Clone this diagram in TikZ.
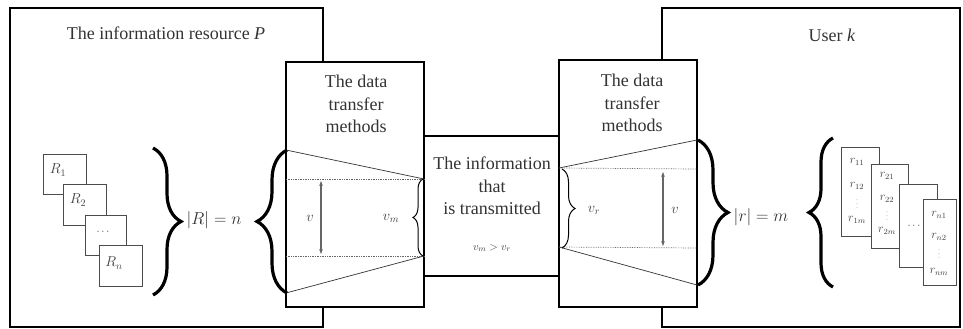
\documentclass[tikz,border=0pt]{standalone}
\usepackage{fontspec}
\setmainfont{Liberation Serif}
\usetikzlibrary{decorations.pathreplacing,arrows.meta}

\tikzset{
  frame/.style={draw, line width=2pt},
  txt/.style={font=\fontsize{18}{22.5}\selectfont, text=black!80, align=center},
  lbl/.style={font=\fontsize{14}{16}\selectfont, text=black!75},
  tiny/.style={font=\fontsize{11}{12}\selectfont, text=black!75},
  rlbl/.style={font=\fontsize{12}{13}\selectfont, text=black!75, inner sep=0pt},
  vd/.style={font=\fontsize{6}{6}\selectfont, text=black!60, inner sep=0pt},
  rbox/.style={draw=black!70, line width=0.8pt, fill=white},
  bigbrace/.style={decorate, decoration={brace, amplitude=#1}, line width=3.2pt},
  smallbrace/.style={decorate, decoration={brace, amplitude=#1}, line width=1pt},
  edge/.style={line width=0.7pt, black!80},
  level/.style={densely dotted, line width=0.7pt, black!60},
  span/.style={{Stealth[length=5pt]}-{Stealth[length=5pt]}, line width=1.2pt, black!60}
}

\begin{document}
\begin{tikzpicture}[x=1pt, y=-1pt]
    \useasboundingbox (0,0) rectangle (963,329);

    % Outer frames
    \draw[frame] (10,8) rectangle (323,327);
    \draw[frame] (662,8) rectangle (960,327);
    \node[txt] (resP) at (166,33) {The information resource \textit{P}};
    \node[txt] (userk) at (832,35) {User \textit{k}};

    % Transfer boxes and the middle box
    \draw[frame, fill=white] (286,62) rectangle (424,307);
    \draw[frame, fill=white] (559,60) rectangle (697,307);
    \draw[frame, fill=white] (424,136) rectangle (559,276);
    \node[txt] (methL) at (356,104) {The data\\transfer\\methods};
    \node[txt] (methR) at (632,103) {The data\\transfer\\methods};
    \node[txt] (info) at (492,186) {The information\\that\\is transmitted};
    \node[tiny] (cmp) at (492,248) {$v_m > v_r$};

    % Left funnel
    \coordinate (lt1) at (286,150); \coordinate (lt2) at (424,179);
    \coordinate (lb1) at (286,293); \coordinate (lb2) at (424,256);
    \draw[edge] (lt1) -- (lt2);
    \draw[edge] (lb1) -- (lb2);
    \draw[level] (286,179) -- (lt2);
    \draw[level] (286,256) -- (lb2);
    \coordinate (la) at (321,181); \coordinate (lz) at (321,254);
    \draw[span] (la) -- (lz);
    \node[lbl] (vL) at (310,218) {$v$};
    \node[lbl] (vm) at (391,218) {$v_m$};

    % Right funnel
    \coordinate (rt1) at (559,168); \coordinate (rt2) at (697,140);
    \coordinate (rb1) at (559,247); \coordinate (rb2) at (697,285);
    \draw[edge] (rt1) -- (rt2);
    \draw[edge] (rb1) -- (rb2);
    \draw[level] (rt1) -- (697,169);
    \draw[level] (rb1) -- (697,248);
    \coordinate (ra) at (663,172); \coordinate (rz) at (663,246);
    \draw[span] (ra) -- (rz);
    \node[lbl] (vR) at (675,210) {$v$};
    \node[lbl] (vr) at (594,210) {$v_r$};

    % Braces
    \draw[bigbrace=28] (153,148) -- (153,295);
    \draw[bigbrace=30] (287,293) -- (287,150);
    \draw[smallbrace=10] (423,256) -- (423,179);
    \draw[smallbrace=13] (562,169) -- (562,248);
    \draw[bigbrace=30] (698,140) -- (698,285);
    \draw[bigbrace=24] (833,287) -- (833,138);
    \node[txt] (cardR) at (214,220) {$|R| = n$};
    \node[txt] (cardr) at (761,217) {$|r| = m$};

    % Resources R_1 ... R_n
    \draw[rbox] (43,154) rectangle (86,194);
    \node[lbl] (R1) at (58,170) {$R_1$};
    \draw[rbox] (63,184) rectangle (106,225);
    \node[lbl] (R2) at (78,200) {$R_2$};
    \draw[rbox] (85,215) rectangle (126,255);
    \node[tiny] (Rd) at (103,232) {$\cdots$};
    \draw[rbox] (99,245) rectangle (142,286);
    \node[lbl] (Rn) at (114,263) {$R_n$};

    % Requests r_11 ... r_nm
    \draw[rbox] (841,147) rectangle (879,236);
    \node[rlbl] (r11) at (857,162) {$r_{11}$};
    \node[rlbl] (r12) at (857,186) {$r_{12}$};
    \node[vd] (d1) at (857,201) {$\vdots$};
    \node[rlbl] (r1m) at (857,220) {$r_{1m}$};
    \draw[rbox] (871,164) rectangle (908,248);
    \node[rlbl] (r21) at (887,176) {$r_{21}$};
    \node[rlbl] (r22) at (887,199) {$r_{22}$};
    \node[vd] (d2) at (887,213) {$\vdots$};
    \node[rlbl] (r2m) at (887,231) {$r_{2m}$};
    \draw[rbox] (899,184) rectangle (937,267);
    \node[tiny] (cd) at (914,226) {$\cdots$};
    \draw[rbox] (923,199) rectangle (956,285);
    \node[rlbl] (rn1) at (939,215) {$r_{n1}$};
    \node[rlbl] (rn2) at (939,237) {$r_{n2}$};
    \node[vd] (dn) at (939,251) {$\vdots$};
    \node[rlbl] (rnm) at (939,272) {$r_{nm}$};
\end{tikzpicture}
\end{document}
